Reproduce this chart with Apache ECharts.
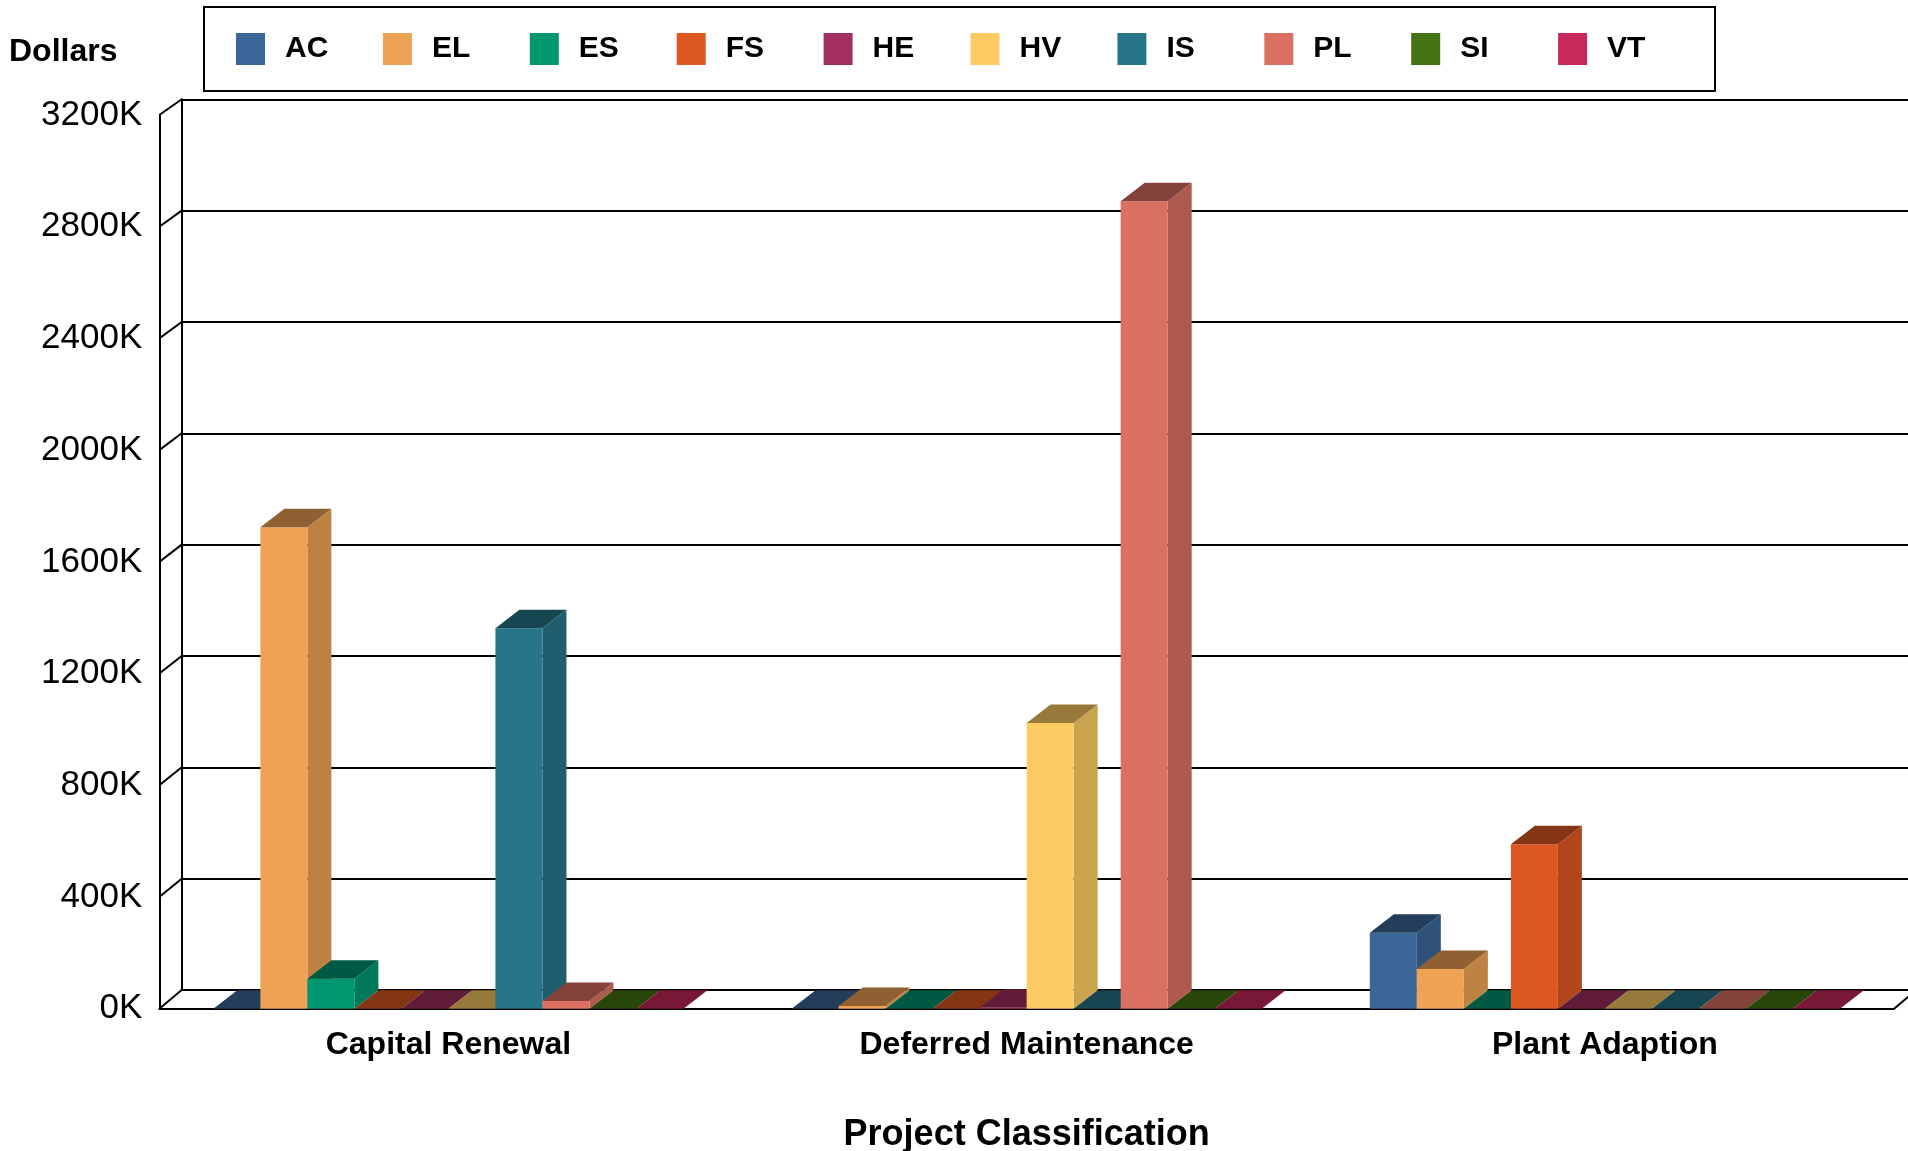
<!DOCTYPE html>
<html>
<head>
<meta charset="utf-8">
<title>Project Classification</title>
<script src="https://cdn.jsdelivr.net/npm/echarts@6/dist/echarts.min.js"></script>
<style>
html, body { margin: 0; padding: 0; background: #fff; }
#chart { width: 1908px; height: 1151px; }
</style>
</head>
<body>
<div id="chart"></div>
<script>
// categories on the x axis
var categories = ['Capital Renewal', 'Deferred Maintenance', 'Plant Adaption'];
var seriesNames = ['AC', 'EL', 'ES', 'FS', 'HE', 'HV', 'IS', 'PL', 'SI', 'VT'];

// dollars per category
var AC = [0, 0, 272000];
var EL = [1724000, 10000, 142000];
var ES = [107000, 0, 0];
var FS = [0, 0, 589000];
var HE = [0, 3000, 0];
var HV = [0, 1023000, 0];
var IS = [1362000, 0, 0];
var PL = [28000, 2891000, 0];
var SI = [0, 0, 0];
var VT = [0, 0, 0];

// y axis ticks
var yTicks = [0, 400000, 800000, 1200000, 1600000, 2000000, 2400000, 2800000, 3200000];
var Y_MAX = yTicks[yTicks.length - 1];

var seriesData = [AC, EL, ES, FS, HE, HV, IS, PL, SI, VT];
var colors = ['#3B6698', '#EEA254', '#009670', '#DC5820', '#A22F60',
              '#FCCC63', '#267589', '#DA7062', '#447512', '#C8285A'];

// fake 3d depth
var BAR_DX = 24, BAR_DY = 18.5;
var WALL_DX = 22.4, WALL_DY_TOP = 15.7, WALL_DY_BOTTOM = 18.7;
var GROUP_GAP = 0.187;
var FONT = '"Liberation Sans", Arial, sans-serif';

function shade(hex, k) {
    var n = parseInt(hex.slice(1), 16);
    var r = Math.round((n >> 16) * k), g = Math.round(((n >> 8) & 255) * k), b = Math.round((n & 255) * k);
    return 'rgb(' + r + ',' + g + ',' + b + ')';
}

// front face + side + top of one bar
function makeBarRenderer(k) {
    return function (params, api) {
        var cat = api.value(0);
        var base = api.coord([cat, 0]);
        var top = api.coord([cat, api.value(1)]);
        var band = api.size([1, 0])[0];
        var w = band * (1 - GROUP_GAP) / seriesNames.length;
        var x0 = base[0] - band / 2 + band * GROUP_GAP / 2 + k * w;
        var x1 = x0 + w;
        var yt = top[1], yb = base[1];
        var c = colors[k];
        return {
            type: 'group',
            children: [{
                type: 'polygon',
                shape: { points: [[x1, yt], [x1 + BAR_DX, yt - BAR_DY], [x1 + BAR_DX, yb - BAR_DY], [x1, yb]] },
                style: { fill: shade(c, 0.8) }
            }, {
                type: 'rect',
                shape: { x: x0, y: yt, width: w, height: yb - yt },
                style: { fill: c }
            }, {
                type: 'polygon',
                shape: { points: [[x0, yt], [x0 + BAR_DX, yt - BAR_DY], [x1 + BAR_DX, yt - BAR_DY], [x1, yt]] },
                style: { fill: shade(c, 0.6) }
            }]
        };
    };
}

// left wall diagonals at every tick, and the right end of the floor
function renderWall(params, api) {
    var v = api.value(1);
    var y = api.coord([0, v])[1];
    var dy = WALL_DY_BOTTOM + (WALL_DY_TOP - WALL_DY_BOTTOM) * v / Y_MAX;
    var cs = params.coordSys;
    var lines = [{
        type: 'line',
        shape: { x1: cs.x, y1: y, x2: cs.x + WALL_DX, y2: y - dy },
        style: { stroke: '#000', lineWidth: 2 }
    }];
    if (v === 0) {
        lines.push({
            type: 'line',
            shape: { x1: cs.x + cs.width, y1: y, x2: cs.x + cs.width + WALL_DX, y2: y - dy },
            style: { stroke: '#000', lineWidth: 2 }
        });
    }
    return { type: 'group', children: lines };
}

var series = [{
    type: 'custom',
    name: 'wall',
    xAxisIndex: 0,
    yAxisIndex: 0,
    silent: true,
    z: 1,
    renderItem: renderWall,
    encode: { x: 0, y: 1 },
    data: yTicks.map(function (v) { return [0, v]; })
}];

seriesNames.forEach(function (name, k) {
    series.push({
        type: 'custom',
        name: name,
        xAxisIndex: 0,
        yAxisIndex: 0,
        z: 3,
        itemStyle: { color: colors[k] },
        renderItem: makeBarRenderer(k),
        encode: { x: 0, y: 1 },
        data: seriesData[k].map(function (v, i) { return [i, v]; })
    });
});

var valueAxisBase = { type: 'value', min: 0, max: Y_MAX, interval: 400000 };

var option = {
    backgroundColor: '#fff',
    animation: false,
    title: {
        text: 'Dollars',
        left: 9,
        top: 36,
        padding: 0,
        textStyle: { fontFamily: FONT, fontSize: 32, fontWeight: 'bold', color: '#000' }
    },
    legend: {
        data: seriesNames,
        left: 204,
        top: 7,
        padding: [26, 20, 26, 32],
        borderColor: '#000',
        borderWidth: 2,
        icon: 'rect',
        itemWidth: 29,
        itemHeight: 32,
        itemGap: 10,
        formatter: '{n|{name}}',
        textStyle: {
            fontFamily: FONT, fontSize: 30, fontWeight: 'bold', color: '#000',
            rich: {
                n: {
                    width: 87.9, padding: [0, 0, 0, 15], backgroundColor: 'rgba(255,255,255,0)',
                    fontFamily: FONT, fontSize: 30, fontWeight: 'bold', color: '#000'
                }
            }
        }
    },
    grid: [
        // front plane: bars and labels
        { left: 159.3, top: 115, right: 14, bottom: 142.3, outerBoundsMode: 'none' },
        // back wall: grid lines
        { left: 159.3 + WALL_DX, top: 115 - WALL_DY_TOP, right: 0, bottom: 142.3 + WALL_DY_BOTTOM, outerBoundsMode: 'none' }
    ],
    xAxis: [{
        type: 'category',
        gridIndex: 0,
        data: categories,
        axisTick: { show: false },
        axisLine: { lineStyle: { color: '#000', width: 2 } },
        axisLabel: { margin: 20, fontFamily: FONT, fontSize: 32, fontWeight: 'bold', color: '#000' },
        name: 'Project Classification',
        nameLocation: 'middle',
        nameGap: 108.5,
        nameTextStyle: { fontFamily: FONT, fontSize: 36, fontWeight: 'bold', color: '#000' }
    }, {
        type: 'category',
        gridIndex: 1,
        data: categories,
        axisTick: { show: false },
        axisLabel: { show: false },
        axisLine: { lineStyle: { color: '#000', width: 2 } }
    }],
    yAxis: [Object.assign({}, valueAxisBase, {
        gridIndex: 0,
        axisLine: { show: true, lineStyle: { color: '#000', width: 2 } },
        axisTick: { show: false },
        splitLine: { show: false },
        axisLabel: {
            margin: 17, fontFamily: FONT, fontSize: 35, color: '#000',
            formatter: function (v) { return (v / 1000) + 'K'; }
        }
    }), Object.assign({}, valueAxisBase, {
        gridIndex: 1,
        axisLine: { show: true, lineStyle: { color: '#000', width: 2 } },
        axisTick: { show: false },
        axisLabel: { show: false },
        splitLine: { lineStyle: { color: '#000', width: 2 } }
    })],
    series: series
};

var myChart = echarts.init(document.getElementById('chart'));
myChart.setOption(option);
</script>
</body>
</html>
